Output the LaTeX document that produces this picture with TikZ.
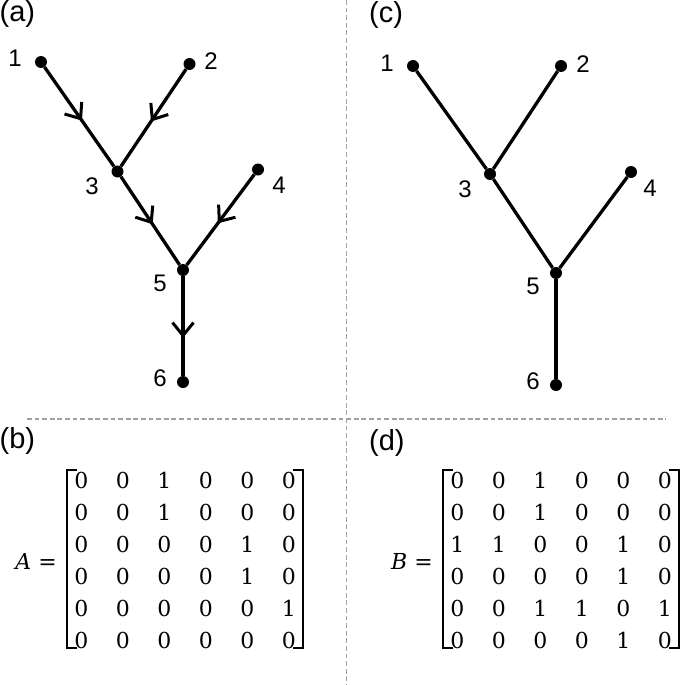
\documentclass[tikz,border=0pt]{standalone}
\usepackage{fontspec}
\setmainfont{Liberation Sans}
\newfontfamily\matfont{DejaVu Serif}
\usetikzlibrary{arrows.meta,decorations.markings,matrix}
\definecolor{sepgray}{HTML}{A0A0A0}
\tikzset{
  dot/.style={circle,fill=black,inner sep=0pt,minimum size=12pt},
  edge/.style={line width=3.3pt,draw=black},
  diredge/.style={edge,postaction={decorate},
    decoration={markings,mark=at position #1 with {\arrow{Straight Barb[length=13pt,width=21pt,line width=3pt]}}}},
  diredge/.default=0.54,
  lbl/.style={font=\fontsize{24}{28}\selectfont,inner sep=0pt},
  panel/.style={font=\fontsize{29}{34}\selectfont,inner sep=0pt},
  sep/.style={draw=sepgray,line width=1.4pt,dash pattern=on 4.8pt off 2.8pt},
  brk/.style={line width=2.6pt,draw=black},
  mat/.style={matrix of nodes,inner sep=0pt,
    nodes={font=\matfont\fontsize{22}{26}\selectfont,inner sep=0pt,minimum height=32pt,minimum width=41.5pt,anchor=center}},
  eqlbl/.style={font=\matfont\fontsize{22}{26}\selectfont,inner sep=0pt,anchor=east}
}
\begin{document}
\begin{tikzpicture}[x=1pt,y=-1pt]
\useasboundingbox (0,0) rectangle (682,685);
% separators
\coordinate (vt) at (346.7,0);
\coordinate (vb) at (346.7,685);
\coordinate (hl) at (27,419);
\coordinate (hr) at (666,419);
\draw[sep] (vt) -- (vb);
\draw[sep] (hl) -- (hr);
% panel labels
\node[panel,anchor=north west] (pa) at (-0.5,0.5) {(a)};
\node[panel,anchor=north west] (pb) at (-0.5,427) {(b)};
\node[panel,anchor=north west] (pc) at (369,1) {(c)};
\node[panel,anchor=north west] (pd) at (369,429) {(d)};
% tree (a)
\node[dot] (a1) at (41,62) {};
\node[dot] (a2) at (189.5,64) {};
\node[dot] (a3) at (117.5,171.5) {};
\node[dot] (a4) at (258,169.5) {};
\node[dot] (a5) at (183,270) {};
\node[dot] (a6) at (183,382) {};
\draw[diredge] (a1) -- (a3);
\draw[diredge] (a2) -- (a3);
\draw[diredge] (a3) -- (a5);
\draw[diredge] (a4) -- (a5);
\draw[diredge=0.62] (a5) -- (a6);
\node[lbl] (la1) at (15,58) {1};
\node[lbl] (la2) at (211,61) {2};
\node[lbl] (la3) at (92,186) {3};
\node[lbl] (la4) at (279,185) {4};
\node[lbl] (la5) at (160,283) {5};
\node[lbl] (la6) at (160,378) {6};
% tree (c)
\node[dot] (c1) at (413,66) {};
\node[dot] (c2) at (561,66) {};
\node[dot] (c3) at (490,174) {};
\node[dot] (c4) at (631,172) {};
\node[dot] (c5) at (556,273) {};
\node[dot] (c6) at (556,385) {};
\draw[edge] (c1) -- (c3);
\draw[edge] (c2) -- (c3);
\draw[edge] (c3) -- (c5);
\draw[edge] (c4) -- (c5);
\draw[edge] (c5) -- (c6);
\node[lbl] (lc1) at (387,63) {1};
\node[lbl] (lc2) at (583,64) {2};
\node[lbl] (lc3) at (465,189) {3};
\node[lbl] (lc4) at (650,188) {4};
\node[lbl] (lc5) at (533,286) {5};
\node[lbl] (lc6) at (533,381) {6};
% matrix A
\node[eqlbl] (Aeq) at (57,561) {\itshape A\upshape\ =};
\matrix (A) [mat] at (185,560) {
0 & 0 & 1 & 0 & 0 & 0\\
0 & 0 & 1 & 0 & 0 & 0\\
0 & 0 & 0 & 0 & 1 & 0\\
0 & 0 & 0 & 0 & 1 & 0\\
0 & 0 & 0 & 0 & 0 & 1\\
0 & 0 & 0 & 0 & 0 & 0\\
};
\draw[brk] (77,470) -- (67,470) -- (67,648) -- (77,648);
\draw[brk] (293,470) -- (303,470) -- (303,648) -- (293,648);
% matrix B
\node[eqlbl] (Beq) at (433,561) {\itshape B\upshape\ =};
\matrix (B) [mat] at (561,560) {
0 & 0 & 1 & 0 & 0 & 0\\
0 & 0 & 1 & 0 & 0 & 0\\
1 & 1 & 0 & 0 & 1 & 0\\
0 & 0 & 0 & 0 & 1 & 0\\
0 & 0 & 1 & 1 & 0 & 1\\
0 & 0 & 0 & 0 & 1 & 0\\
};
\draw[brk] (453,470) -- (443,470) -- (443,648) -- (453,648);
\draw[brk] (669,470) -- (679,470) -- (679,648) -- (669,648);
\end{tikzpicture}
\end{document}
